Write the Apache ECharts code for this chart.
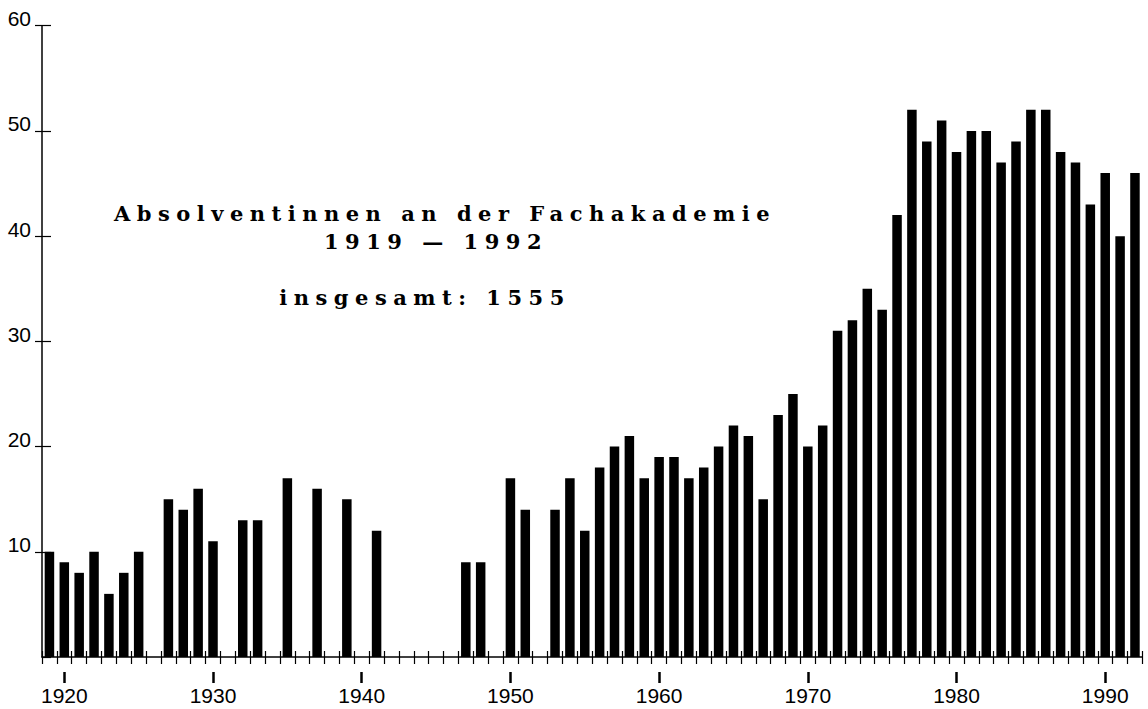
<!DOCTYPE html>
<html>
<head>
<meta charset="utf-8">
<script src="https://cdn.jsdelivr.net/npm/echarts@6/dist/echarts.min.js"></script>
<style>
html,body{margin:0;padding:0;background:#fff;}
#c{width:1148px;height:709px;}
#c text[style*="DejaVu Serif"]{letter-spacing:6.5px;}
</style>
</head>
<body>
<div id="c"></div>
<script>
// Years (categories)
const years = ['1919','1920','1921','1922','1923','1924','1925','1926','1927','1928',
  '1929','1930','1931','1932','1933','1934','1935','1936','1937','1938',
  '1939','1940','1941','1942','1943','1944','1945','1946','1947','1948',
  '1949','1950','1951','1952','1953','1954','1955','1956','1957','1958',
  '1959','1960','1961','1962','1963','1964','1965','1966','1967','1968',
  '1969','1970','1971','1972','1973','1974','1975','1976','1977','1978',
  '1979','1980','1981','1982','1983','1984','1985','1986','1987','1988',
  '1989','1990','1991','1992'];
// Graduates per year (null = no graduates that year)
const graduates = [10, 9, 8, 10, 6, 8, 10, null, 15, 14,
  16, 11, null, 13, 13, null, 17, null, 16, null,
  15, null, 12, null, null, null, null, null, 9, 9,
  null, 17, 14, null, 14, 17, 12, 18, 20, 21,
  17, 19, 19, 17, 18, 20, 22, 21, 15, 23,
  25, 20, 22, 31, 32, 35, 33, 42, 52, 49,
  51, 48, 50, 50, 47, 49, 52, 52, 48, 47,
  43, 46, 40, 46];
// Labelled years on the x axis
const labelYears = ['1920','1930','1940','1950','1960','1970','1980','1990'];
// y axis
const yMin = 0, yMax = 60, yStep = 10;
// Annotation lines
const titleLines = ['Absolventinnen an der Fachakademie', '1919 \u2014 1992', 'insgesamt: 1555'];

const chart = echarts.init(document.getElementById('c'), null, {renderer: 'svg'});
const isLabelYear = (i, v) => labelYears.indexOf(String(v)) >= 0;
const axisFont = {fontFamily: 'Liberation Sans', fontSize: 21, color: '#000'};

const titleFont = {fontFamily: 'DejaVu Serif', fontWeight: 'bold', fontSize: 21, fill: '#000', align: 'center', verticalAlign: 'middle'};

chart.setOption({
  animation: false,
  backgroundColor: '#fff',
  grid: {left: 42, right: 5.6, top: 25.7, bottom: 52, containLabel: false, outerBoundsMode: 'none'},
  xAxis: [
    {
      type: 'category', data: years, position: 'bottom',
      axisLine: {show: true, lineStyle: {color: '#000', width: 1.5}},
      axisTick: {show: true, interval: 0, inside: false, length: 7, lineStyle: {color: '#000', width: 1.2}},
      axisLabel: {show: false}, splitLine: {show: false}
    },
    {
      type: 'category', data: years, position: 'bottom',
      axisLine: {show: false},
      axisTick: {show: true, interval: 0, inside: true, length: 6, lineStyle: {color: '#000', width: 1.2}},
      axisLabel: {show: false}, splitLine: {show: false}
    },
    {
      type: 'category', data: years, position: 'bottom', offset: 15,
      axisLine: {show: false},
      axisTick: {show: true, alignWithLabel: true, interval: isLabelYear, length: 11, lineStyle: {color: '#000', width: 2.5}},
      axisLabel: Object.assign({show: true, interval: isLabelYear, margin: 13}, axisFont),
      splitLine: {show: false}
    }
  ],
  yAxis: [
    {
      type: 'value', min: yMin, max: yMax, interval: yStep,
      axisLine: {show: true, lineStyle: {color: '#000', width: 1.5}},
      axisTick: {show: true, inside: false, length: 7, lineStyle: {color: '#000', width: 1.2}},
      axisLabel: Object.assign({show: true, margin: 11, showMinLabel: false, verticalAlign: 'bottom', lineHeight: 14}, axisFont),
      splitLine: {show: false}
    },
    {
      type: 'value', min: yMin, max: yMax, interval: yStep, position: 'left',
      axisLine: {show: false},
      axisTick: {show: true, inside: true, length: 9, lineStyle: {color: '#000', width: 1.2}},
      axisLabel: {show: false},
      splitLine: {show: false}
    }
  ],
  series: [{
    type: 'bar', data: graduates, xAxisIndex: 0, yAxisIndex: 0,
    barWidth: 9.5,
    itemStyle: {color: '#000'}
  }],
  graphic: [
    {type: 'text', x: 445, y: 213, style: Object.assign({text: titleLines[0]}, titleFont)},
    {type: 'text', x: 436, y: 241, style: Object.assign({text: titleLines[1]}, titleFont)},
    {type: 'text', x: 425, y: 297, style: Object.assign({text: titleLines[2]}, titleFont)}
  ]
});
</script>
</body>
</html>
